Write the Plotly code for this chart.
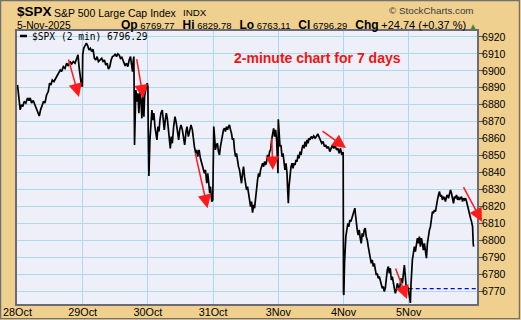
import numpy as np
import plotly.graph_objects as go

# ---------------- data ----------------
day_labels = ["28Oct", "29Oct", "30Oct", "31Oct", "3Nov", "4Nov", "5Nov"]
BARS_PER_DAY = 195  # 2-minute bars per 6.5h session

# bar index within each session (2-min bars) and SPX price
oct28_bar = [0, 4, 8, 12, 16, 20, 25, 30, 34, 38, 42, 47, 52, 57, 62, 65, 69, 74, 78, 82,
             87, 92, 96, 100, 104, 109, 114, 119, 124, 128, 132, 137, 142, 147, 152, 157,
             162, 167, 172, 177, 181, 184, 188, 191, 194]
oct28_px = [6891.7, 6884.8, 6877.0, 6880.0, 6879.0, 6882.0, 6881.0, 6884.0, 6882.5, 6884.0,
            6881.0, 6882.5, 6880.0, 6877.0, 6875.0, 6873.4, 6877.0, 6879.3, 6882.0, 6881.0,
            6885.8, 6887.8, 6892.7, 6891.7, 6894.6, 6893.7, 6895.6, 6896.6, 6899.0, 6900.5,
            6899.6, 6902.5, 6901.5, 6904.5, 6902.9, 6905.5, 6904.0, 6905.5, 6904.5, 6907.4,
            6909.4, 6902.5, 6896.6, 6891.7, 6890.7]

oct29_bar = [0, 3, 7, 11, 15, 19, 23, 27, 31, 35, 39, 43, 47, 52, 57, 61, 65, 69, 73, 77,
             81, 85, 89, 93, 97, 101, 105, 109, 113, 117, 122, 127, 131, 135, 139, 143, 147,
             149, 151, 153, 154, 155, 157, 159, 162, 165, 168, 171, 174, 177, 180, 183, 185,
             188, 191, 193, 194]
oct29_px = [6909.4, 6913.3, 6914.7, 6916.3, 6914.7, 6912.3, 6913.3, 6911.4, 6912.7, 6907.4,
            6906.4, 6908.4, 6905.5, 6906.4, 6907.4, 6905.5, 6906.4, 6903.5, 6904.5, 6901.0,
            6902.5, 6906.4, 6908.4, 6908.8, 6910.0, 6908.4, 6910.0, 6909.4, 6907.4, 6908.0,
            6905.5, 6902.9, 6904.5, 6902.5, 6906.4, 6908.4, 6902.5, 6899.6, 6905.5, 6908.4,
            6884.8, 6856.3, 6873.0, 6888.7, 6881.9, 6886.8, 6875.0, 6887.8, 6882.8, 6872.0,
            6886.8, 6873.0, 6884.8, 6889.7, 6891.7, 6892.7, 6890.7]

oct30_bar = [0, 1, 3, 6, 9, 12, 15, 18, 21, 24, 27, 30, 33, 36, 39, 43, 46, 49, 52, 55,
             58, 61, 64, 67, 70, 73, 77, 81, 85, 89, 92, 95, 99, 103, 107, 110, 114, 117,
             121, 125, 129, 133, 136, 139, 143, 146, 149, 153, 157, 161, 165, 169, 172, 176,
             179, 182, 185, 187, 189, 191, 194]
oct30_px = [6890.7, 6865.2, 6838.0, 6859.3, 6873.0, 6876.9, 6871.0, 6875.0, 6867.1, 6861.2,
            6859.3, 6867.1, 6864.2, 6871.0, 6875.0, 6876.9, 6869.1, 6865.2, 6871.0, 6875.0,
            6872.0, 6865.2, 6857.3, 6854.3, 6861.2, 6857.3, 6867.1, 6873.0, 6869.1, 6863.2,
            6859.3, 6865.2, 6868.1, 6865.2, 6859.3, 6856.3, 6864.2, 6867.1, 6861.2, 6865.2,
            6868.1, 6865.2, 6859.3, 6855.3, 6851.4, 6853.4, 6849.4, 6853.4, 6848.4, 6845.5,
            6842.5, 6839.6, 6841.6, 6833.7, 6839.6, 6832.7, 6827.8, 6831.7, 6824.9, 6822.9,
            6823.9]

oct31_bar = [0, 2, 5, 7, 10, 13, 16, 19, 22, 25, 28, 31, 34, 37, 40, 43, 46, 49, 52, 55,
             58, 61, 64, 67, 70, 73, 76, 79, 82, 85, 88, 91, 94, 97, 100, 103, 106, 109, 112,
             115, 118, 121, 124, 127, 130, 133, 136, 139, 142, 145, 148, 151, 154, 157, 160,
             163, 166, 169, 172, 175, 178, 181, 184, 187, 190, 192, 194]
oct31_px = [6865.2, 6867.1, 6859.3, 6853.4, 6856.3, 6857.3, 6852.4, 6850.4, 6855.3, 6859.3,
            6863.2, 6865.2, 6866.1, 6864.2, 6867.1, 6865.2, 6867.1, 6868.1, 6865.2, 6863.2,
            6859.3, 6860.3, 6853.4, 6849.4, 6851.4, 6846.5, 6843.5, 6841.6, 6836.7, 6833.7,
            6839.6, 6843.5, 6837.6, 6833.7, 6829.8, 6831.7, 6825.8, 6823.9, 6819.9, 6822.9,
            6816.4, 6820.9, 6819.0, 6825.8, 6832.7, 6835.7, 6839.6, 6837.6, 6841.6, 6843.5,
            6845.5, 6843.5, 6846.5, 6844.5, 6846.5, 6850.4, 6848.4, 6852.4, 6853.4, 6859.3,
            6863.2, 6866.1, 6861.2, 6865.2, 6859.3, 6849.4, 6839.6]

nov3_bar = [0, 2, 5, 8, 11, 14, 17, 20, 23, 26, 28, 30, 32, 35, 38, 41, 44, 47, 50, 53,
            56, 59, 62, 65, 68, 71, 74, 77, 80, 83, 86, 89, 92, 95, 98, 102, 106, 110, 114,
            118, 122, 126, 130, 134, 138, 142, 146, 150, 154, 158, 162, 166, 170, 174, 178,
            182, 186, 190, 194]
nov3_px = [6871.4, 6865.2, 6855.3, 6856.3, 6849.4, 6851.4, 6845.5, 6841.6, 6845.5, 6839.6,
           6829.8, 6821.9, 6831.7, 6839.6, 6843.5, 6845.5, 6842.5, 6845.5, 6844.5, 6847.5,
           6846.5, 6850.4, 6848.4, 6852.4, 6850.4, 6854.3, 6856.3, 6854.3, 6858.3, 6855.3,
           6859.3, 6857.3, 6860.3, 6859.3, 6861.2, 6860.3, 6861.6, 6860.3, 6861.2, 6862.8,
           6861.2, 6859.3, 6857.3, 6858.3, 6855.3, 6856.3, 6854.3, 6855.3, 6852.4, 6854.3,
           6856.3, 6854.3, 6856.3, 6853.4, 6854.3, 6851.4, 6854.3, 6850.4, 6852.0]

nov4_bar = [0, 1, 3, 5, 7, 10, 13, 16, 19, 22, 25, 28, 31, 34, 36, 38, 41, 44, 47, 50,
            53, 56, 59, 62, 65, 68, 71, 74, 77, 80, 83, 86, 89, 92, 95, 98, 101, 104, 107,
            110, 113, 116, 119, 122, 125, 128, 131, 134, 137, 140, 143, 146, 149, 152, 155,
            158, 161, 164, 167, 170, 173, 176, 179, 182, 185, 188, 191, 194]
nov4_px = [6768.8, 6767.8, 6786.5, 6796.3, 6802.2, 6806.2, 6810.1, 6808.1, 6812.1, 6811.1,
           6814.0, 6815.0, 6817.0, 6819.0, 6815.0, 6810.1, 6806.2, 6803.2, 6806.2, 6801.3,
           6798.3, 6804.2, 6802.2, 6806.2, 6807.2, 6802.2, 6800.3, 6796.3, 6792.4, 6789.5,
           6786.5, 6788.5, 6784.6, 6786.5, 6781.6, 6779.6, 6780.6, 6777.7, 6778.7, 6775.7,
           6774.7, 6771.8, 6772.8, 6769.8, 6771.8, 6778.7, 6782.6, 6784.6, 6780.6, 6783.6,
           6776.7, 6778.7, 6773.8, 6771.8, 6768.8, 6770.8, 6774.7, 6772.8, 6770.8, 6774.7,
           6777.7, 6774.7, 6780.6, 6785.5, 6778.7, 6770.8, 6772.8, 6771.6]

nov5_bar = [0, 3, 5, 7, 9, 11, 14, 17, 20, 23, 26, 29, 32, 35, 38, 41, 44, 47, 50, 53,
            56, 59, 62, 65, 68, 71, 74, 77, 80, 83, 86, 89, 92, 95, 98, 101, 104, 107, 110,
            113, 116, 119, 122, 125, 128, 131, 134, 137, 140, 143, 146, 149, 152, 155, 158,
            161, 164, 167, 170, 173, 176, 179, 182, 185, 188, 191, 193, 194]
nov5_px = [6769.8, 6766.9, 6763.1, 6774.7, 6782.6, 6788.5, 6792.4, 6796.3, 6793.4, 6798.3,
           6801.3, 6798.3, 6802.2, 6796.3, 6801.3, 6798.3, 6794.3, 6798.3, 6793.4, 6789.5,
           6798.3, 6804.2, 6806.2, 6808.1, 6812.1, 6817.0, 6816.0, 6818.0, 6817.0, 6821.9,
           6823.9, 6826.8, 6828.8, 6825.8, 6826.8, 6823.9, 6825.8, 6824.9, 6822.9, 6825.8,
           6826.8, 6824.9, 6828.8, 6829.8, 6827.8, 6824.9, 6821.9, 6825.8, 6824.9, 6826.8,
           6823.9, 6825.8, 6823.9, 6824.9, 6825.8, 6822.9, 6824.9, 6823.9, 6824.9, 6822.9,
           6819.9, 6818.0, 6815.0, 6813.1, 6811.1, 6808.1, 6798.3, 6796.3]

y_tick_values = [6770, 6780, 6790, 6800, 6810, 6820, 6830, 6840, 6850, 6860, 6870, 6880,
                 6890, 6900, 6910, 6920]

prev_close = 6771.55
q_open, q_high, q_low, q_close = 6769.77, 6829.78, 6763.11, 6796.29
q_chg, q_chg_pct = 24.74, 0.37

# ---------------- build ----------------
sessions = [(oct28_bar, oct28_px), (oct29_bar, oct29_px), (oct30_bar, oct30_px),
            (oct31_bar, oct31_px), (nov3_bar, nov3_px), (nov4_bar, nov4_px),
            (nov5_bar, nov5_px)]
xs, ys = [], []
for d, (b, p) in enumerate(sessions):
    assert len(b) == len(p), (d, len(b), len(p))
    xs.extend(d + np.array(b) / BARS_PER_DAY)
    ys.extend(p)

# plot area in pixels
L, R, T, B = 17, 477, 31, 304
W, H = 521, 320
X_RANGE = [-0.0077, 7.0475]
Y_RANGE = [6762.5, 6923.5]


def px_x(px):
    return (px - L) / (R - L)


def px_y(py):
    return (B - py) / (B - T)


FONT = "Liberation Sans, Arial, sans-serif"
GRID = "#a8dbeb"

fig = go.Figure()
fig.add_trace(go.Scatter(x=[len(day_labels) - 1, X_RANGE[1]], y=[prev_close, prev_close],
                         mode="lines", line=dict(color="#0000ff", width=1.2, dash="4px,3px"),
                         hoverinfo="skip", showlegend=False))
fig.add_trace(go.Scatter(x=xs, y=ys, mode="lines", line=dict(color="black", width=1.7),
                         showlegend=False))

annotations = []
# red arrows (tail -> tip) in data coordinates
arrows = [
    (0.775, 6907.6, 0.943, 6884.6),
    (1.825, 6907.8, 1.929, 6883.8),
    (2.722, 6852.2, 2.914, 6819.0),
    (3.899, 6861.0, 3.916, 6841.5),
    (4.655, 6865.1, 5.038, 6854.5),
    (5.790, 6784.3, 5.974, 6765.5),
    (6.828, 6832.3, 7.124, 6811.0),
]
for ax_, ay_, x_, y_ in arrows:
    annotations.append(dict(x=x_, y=y_, ax=ax_, ay=ay_, xref="x", yref="y",
                            axref="x", ayref="y", showarrow=True, arrowhead=2,
                            arrowsize=1.8, arrowwidth=1.5, arrowcolor="#ff1a1a", text=""))

annotations.append(dict(x=px_x(232), y=px_y(58), xref="paper", yref="paper",
                        xanchor="left", yanchor="middle", showarrow=False,
                        text="<b>2-minute chart for 7 days</b>",
                        font=dict(family=FONT, size=14, color="#f01414")))

# legend
annotations.append(dict(x=px_x(31), y=px_y(36), xref="paper", yref="paper",
                        xanchor="left", yanchor="middle", showarrow=False,
                        text=f"$SPX (2 min) {q_close:.2f}", borderpad=0,
                        font=dict(family="DejaVu Sans Mono, monospace", size=9.6, color="black")))

# header
annotations.append(dict(x=px_x(16), y=px_y(11.8), xref="paper", yref="paper",
                        xanchor="left", yanchor="middle", showarrow=False, borderpad=0,
                        text="<b>$SPX</b>", font=dict(family=FONT, size=13.5, color="black")))
annotations.append(dict(x=px_x(53), y=px_y(12.5), xref="paper", yref="paper",
                        xanchor="left", yanchor="middle", showarrow=False, borderpad=0,
                        text="S&P 500 Large Cap Index",
                        font=dict(family=FONT, size=10.5, color="black")))
annotations.append(dict(x=px_x(182), y=px_y(12.5), xref="paper", yref="paper",
                        xanchor="left", yanchor="middle", showarrow=False, borderpad=0,
                        text="INDX", font=dict(family=FONT, size=9.8, color="black")))
annotations.append(dict(x=px_x(16), y=px_y(25), xref="paper", yref="paper",
                        xanchor="left", yanchor="middle", showarrow=False, borderpad=0,
                        text="5-Nov-2025", font=dict(family=FONT, size=10.3, color="black")))


def lab(t):
    return f"<span style='font-size:12px'><b>{t}</b></span>"


quote = (f"{lab('Op')} {q_open:.2f}&nbsp;&nbsp; {lab('Hi')} {q_high:.2f}&nbsp;&nbsp; "
         f"{lab('Lo')} {q_low:.2f}&nbsp;&nbsp; {lab('Cl')} {q_close:.2f}&nbsp;&nbsp; "
         f"{lab('Chg')} <span style='font-size:11px'>+{q_chg:.2f} (+{q_chg_pct:.2f} %)</span> "
         f"<span style='color:#2f8f2f;font-size:8px'>▲</span>")
annotations.append(dict(x=px_x(478), y=px_y(25), xref="paper", yref="paper",
                        xanchor="right", yanchor="middle", showarrow=False, borderpad=0,
                        text=quote, font=dict(family=FONT, size=9.5, color="black")))
annotations.append(dict(x=px_x(388), y=px_y(10.5), xref="paper", yref="paper",
                        xanchor="left", yanchor="middle", showarrow=False, borderpad=0,
                        text="© StockCharts.com",
                        font=dict(family=FONT, size=9.8, color="#3a3a3a")))

shapes = [
    # legend line sample
    dict(type="line", xref="paper", yref="paper", x0=px_x(20), x1=px_x(27),
         y0=px_y(36), y1=px_y(36), line=dict(color="black", width=2.5)),
    # outer frame
    dict(type="rect", xref="paper", yref="paper", x0=px_x(0.6), x1=px_x(519.4),
         y0=px_y(318.6), y1=px_y(0.6), line=dict(color="#707070", width=1.3)),
]

fig.update_layout(
    width=W, height=H, autosize=False,
    margin=dict(l=L, r=W - R, t=T, b=H - B, pad=0, autoexpand=False),
    paper_bgcolor="#efd08f", plot_bgcolor="#eeeff8",
    showlegend=False,
    annotations=annotations, shapes=shapes,
    font=dict(family=FONT, size=10.5, color="black"),
    xaxis=dict(range=X_RANGE, tickmode="array", tickvals=list(range(len(day_labels))),
               ticktext=day_labels, showgrid=True, gridcolor=GRID, gridwidth=1,
               zeroline=False, showline=True, mirror=True, linecolor="#6b6b73",
               linewidth=2, ticks="", automargin=False, ticklabelstandoff=-3,
               tickfont=dict(family=FONT, size=10.8, color="black")),
    yaxis=dict(range=Y_RANGE, side="right", tickmode="array", tickvals=y_tick_values,
               ticktext=[str(v) for v in y_tick_values], showgrid=True, gridcolor=GRID,
               gridwidth=1, zeroline=False, showline=True, mirror=True, automargin=False,
               linecolor="#6b6b73", linewidth=2, ticks="outside", ticklen=4,
               tickcolor="#555555", tickwidth=1, ticklabelstandoff=-3,
               tickfont=dict(family=FONT, size=10.5, color="black")),
)

fig.write_html("out.html")
